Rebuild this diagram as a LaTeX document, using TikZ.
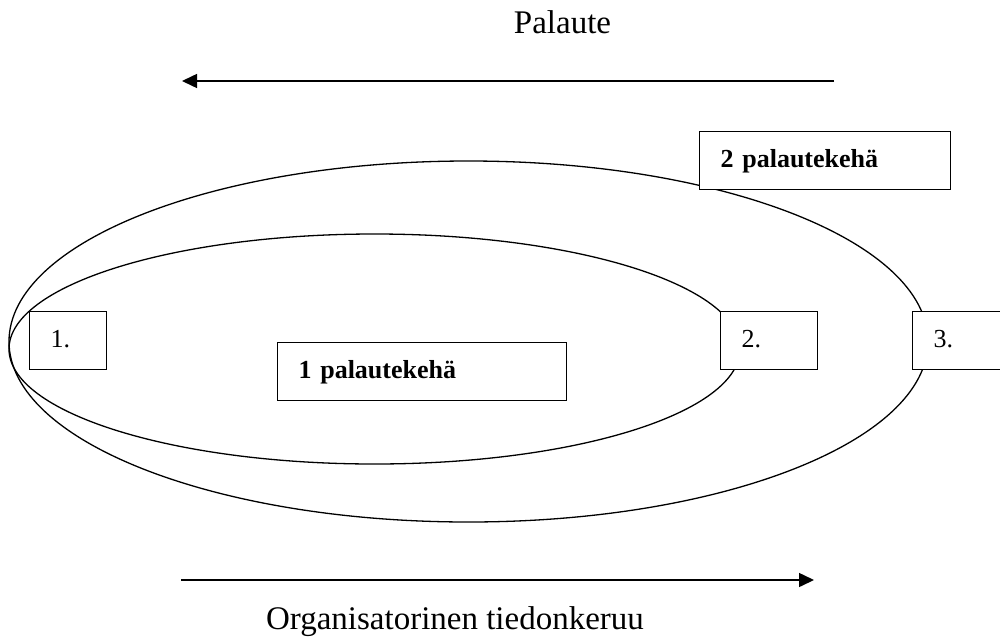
\documentclass[tikz,border=0pt]{standalone}
\usepackage{fontspec}
\setmainfont{Liberation Serif}
\usetikzlibrary{arrows.meta}
\begin{document}
\begin{tikzpicture}[x=1pt,y=-1pt,
  boxnode/.style={draw, line width=1.3pt, fill=white, anchor=north west, inner xsep=21pt, inner ysep=0pt,
    align=left, text height=18pt, text depth=4pt, font=\fontsize{26}{30}\selectfont},
  bigtext/.style={font=\fontsize{33}{40}\selectfont, anchor=base, inner sep=0pt},
  flowarrow/.style={line width=1.5pt, -{Triangle[length=15pt,width=14pt]}},
  loop/.style={line width=1.3pt}]
\clip (0,0) rectangle (1000,643);
\useasboundingbox (0,0) rectangle (1000,643);
% feedback loops
\draw[loop] (468.5,341.5) ellipse [x radius=459.5pt, y radius=180.5pt];
\draw[loop] (374.5,349) ellipse [x radius=365.5pt, y radius=115pt];
% boxes
\node[boxnode, minimum width=77pt, minimum height=58pt, text width=35pt] (b1) at (29,311) {1.};
\node[boxnode, minimum width=97pt, minimum height=58pt, text width=55pt] (b2) at (720,311) {2.};
\node[boxnode, minimum width=100pt, minimum height=58pt, text width=58pt] (b3) at (912,311) {3.};
\node[boxnode, minimum width=251pt, minimum height=58pt, text width=209pt] (k2) at (699,131) {\textbf{2 palautekehä}};
\node[boxnode, minimum width=289pt, minimum height=58pt, text width=247pt] (k1) at (277,342) {\textbf{1 palautekehä}};
% arrows and labels
\coordinate (pa) at (834,81);
\coordinate (pb) at (182,81);
\coordinate (oa) at (181,580);
\coordinate (ob) at (814,580);
\draw[flowarrow] (pa) -- (pb);
\draw[flowarrow] (oa) -- (ob);
\node[bigtext] (palaute) at (562.5,33) {Palaute};
\node[bigtext] (org) at (455,629) {Organisatorinen tiedonkeruu};
\end{tikzpicture}
\end{document}
